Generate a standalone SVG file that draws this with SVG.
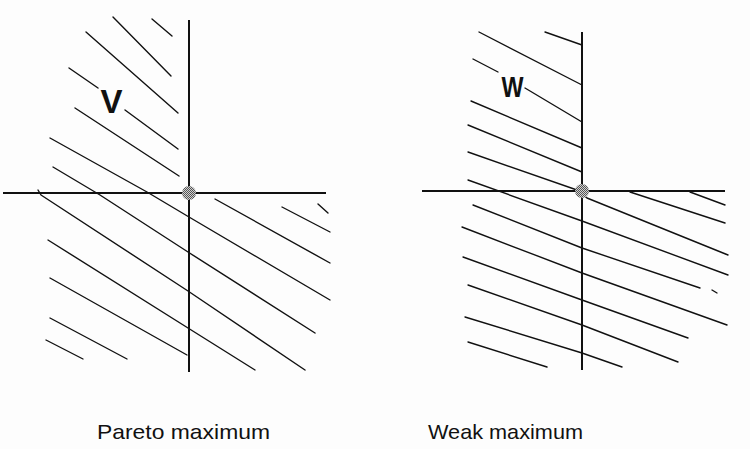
<svg xmlns="http://www.w3.org/2000/svg" width="750" height="449" viewBox="0 0 750 449">
<style>
.h{stroke:#111;stroke-width:1.4;fill:none;stroke-linecap:round;stroke-linejoin:round}
.ax{stroke:#111;stroke-width:2;fill:none}
.lab{font-family:"Liberation Sans",Arial,sans-serif;font-size:21px;fill:#111}
.big{font-family:"Liberation Sans",Arial,sans-serif;font-weight:bold;fill:#111}
</style>
<defs>
<pattern id="chk" width="2" height="2" patternUnits="userSpaceOnUse">
<rect width="2" height="2" fill="#d0d0d0"/>
<rect width="1" height="1" fill="#555"/>
<rect x="1" y="1" width="1" height="1" fill="#555"/>
</pattern>
</defs>
<rect width="750" height="449" fill="#fdfdfd"/>
<g id="pareto">
<g id="pareto-hatch">
<line class="h" x1="152" y1="19" x2="172" y2="36"/>
<line class="h" x1="113" y1="17" x2="171" y2="76"/>
<line class="h" x1="86" y1="32" x2="178" y2="113"/>
<line class="h" x1="69" y1="68" x2="98" y2="88"/>
<line class="h" x1="125" y1="110" x2="178" y2="149"/>
<line class="h" x1="75" y1="108" x2="179" y2="176"/>
<polyline class="h" points="50,138 147,192 189,217 330,300"/>
<polyline class="h" points="53,167 100,195 188,252 315,333"/>
<polyline class="h" points="38,190 41,195 188,291 305,370"/>
<polyline class="h" points="48,240 188,328 255,370"/>
<line class="h" x1="50" y1="278" x2="187" y2="355"/>
<line class="h" x1="50" y1="318" x2="127" y2="359"/>
<line class="h" x1="46" y1="340" x2="83" y2="359"/>
<line class="h" x1="215" y1="199" x2="330" y2="263"/>
<line class="h" x1="282" y1="207" x2="330" y2="232"/>
<line class="h" x1="318" y1="204" x2="328" y2="213"/>
</g>
<line class="ax" x1="3" y1="193" x2="326" y2="193"/>
<line class="ax" x1="189" y1="20" x2="189" y2="372"/>
<circle cx="189" cy="193" r="7" fill="url(#chk)"/>
<text class="big" x="111.5" y="113" font-size="33" text-anchor="middle">V</text>
<text class="lab" x="97" y="439" textLength="173" lengthAdjust="spacingAndGlyphs">Pareto maximum</text>
</g>
<g id="weak">
<g id="weak-hatch">
<line class="h" x1="545" y1="32" x2="582" y2="45"/>
<line class="h" x1="479" y1="32" x2="582" y2="85"/>
<line class="h" x1="473" y1="59" x2="498" y2="72"/>
<line class="h" x1="525" y1="88" x2="582" y2="122"/>
<line class="h" x1="471" y1="101" x2="582" y2="148"/>
<line class="h" x1="468" y1="125" x2="582" y2="172"/>
<polyline class="h" points="468,152 577,190 587,198 728,255"/>
<polyline class="h" points="468,180 582,221 728,275"/>
<polyline class="h" points="473,205 582,248 700,288"/>
<line class="h" x1="712" y1="290" x2="717" y2="293"/>
<polyline class="h" points="462,227 582,273 727,325"/>
<polyline class="h" points="463,257 582,300 688,338"/>
<polyline class="h" points="468,285 582,325 678,362"/>
<polyline class="h" points="465,317 582,353 622,367"/>
<line class="h" x1="468" y1="342" x2="547" y2="367"/>
<line class="h" x1="630" y1="192" x2="725" y2="223"/>
<line class="h" x1="690" y1="192" x2="725" y2="205"/>
</g>
<line class="ax" x1="422" y1="191" x2="725" y2="191"/>
<line class="ax" x1="582" y1="32" x2="582" y2="370"/>
<circle cx="582" cy="191" r="7" fill="url(#chk)"/>
<text class="big" x="512.5" y="97" font-size="29" text-anchor="middle" textLength="22" lengthAdjust="spacingAndGlyphs">W</text>
<text class="lab" x="428" y="439" textLength="155" lengthAdjust="spacingAndGlyphs">Weak maximum</text>
</g>
</svg>
